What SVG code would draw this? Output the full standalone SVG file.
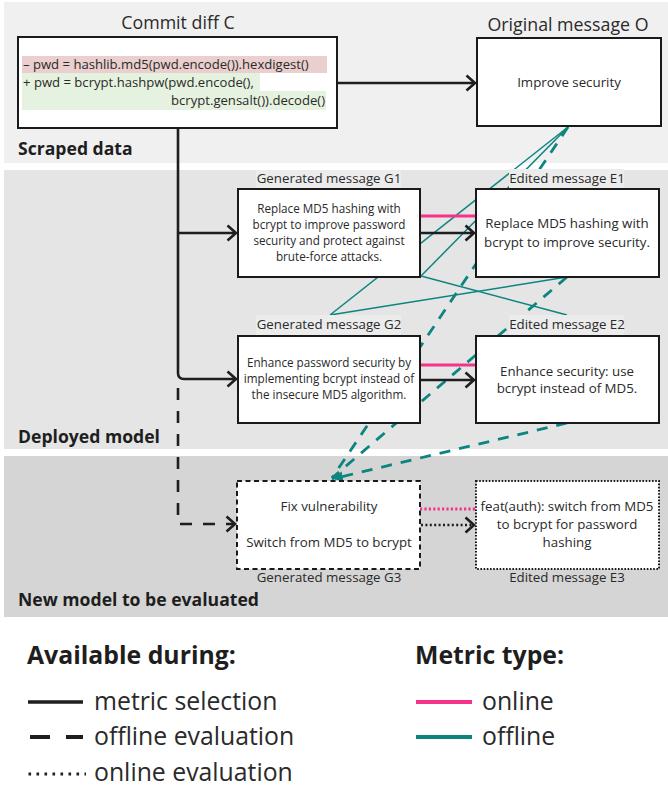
<svg xmlns="http://www.w3.org/2000/svg" width="668" height="789" viewBox="0 0 668 789">
<style>
text{font-family:"Open Sans","Noto Sans","DejaVu Sans",sans-serif;fill:#2a2a2a}
.ttl{font-size:17.8px;text-anchor:middle}
.sub{font-size:13.3px;text-anchor:middle}
.bt{font-size:11.7px;text-anchor:middle}
.et{font-size:13.3px;text-anchor:middle}
.code{font-size:13.1px}
.sec{font-size:17.6px;font-weight:bold;fill:#1e1e1e}
.leg{font-size:24.8px;fill:#2a2a2a}
.legh{font-size:24.8px;font-weight:bold;fill:#1e1e1e}
.box{fill:#fff;stroke:#1a1a1a;stroke-width:2}
.blk{fill:none;stroke:#1e1e1e;stroke-width:2.6}
.teal{fill:none;stroke:#0c8580;stroke-width:1.5}
.tealD{fill:none;stroke:#0c8580;stroke-width:2.8;stroke-dasharray:11 9}
.pink{fill:none;stroke:#f6338a;stroke-width:3}
.lbl{fill:#ececec}
</style>
<defs>
<marker id="chev" markerUnits="userSpaceOnUse" markerWidth="14" markerHeight="20" refX="10" refY="9" orient="auto">
<path d="M1.5,1.5 L10,9 L1.5,16.5" fill="none" stroke="#1e1e1e" stroke-width="2.6"/>
</marker>
<marker id="tri" markerUnits="userSpaceOnUse" markerWidth="14" markerHeight="12" refX="11" refY="5" orient="auto">
<path d="M0,0 L11,5 L0,10 Z" fill="#0c8580"/>
</marker>
</defs>

<!-- panels -->
<rect x="4" y="2" width="664" height="161" fill="#f0f0f0"/>
<rect x="4" y="170" width="664" height="279" fill="#e5e5e5"/>
<rect x="4" y="456" width="664" height="161" fill="#d5d5d5"/>
<text class="sec" x="18" y="155">Scraped data</text>
<text class="sec" x="18" y="443">Deployed model</text>
<text class="sec" x="18" y="606">New model to be evaluated</text>

<g id="connectors">
<!-- offline metric lines (solid) -->
<line class="teal" x1="568" y1="127" x2="421" y2="276"/>
<line class="teal" x1="568" y1="127" x2="330" y2="315"/>
<line class="teal" x1="567" y1="277" x2="330" y2="315"/>
<line class="teal" x1="421" y1="276" x2="567" y2="315"/>
<!-- offline metric lines (dashed, to G3) -->
<line class="tealD" x1="568" y1="127" x2="332" y2="478"/>
<line class="tealD" x1="567" y1="277" x2="332" y2="478"/>
<line class="tealD" x1="567" y1="423" x2="332" y2="479" marker-end="url(#tri)"/>
<!-- online metric lines -->
<line class="pink" x1="420" y1="216" x2="476" y2="216"/>
<line class="pink" x1="420" y1="365" x2="476" y2="365"/>
<line class="pink" x1="420" y1="509" x2="476" y2="509" stroke-dasharray="2.2 2.2"/>
<!-- black flow -->
<line class="blk" x1="337" y1="83" x2="475" y2="83" marker-end="url(#chev)"/>
<path class="blk" d="M178,128 V373 Q178,379 184,379 H236" marker-end="url(#chev)"/>
<line class="blk" x1="178" y1="233" x2="236" y2="233" marker-end="url(#chev)"/>
<line class="blk" x1="420" y1="233" x2="474" y2="233" marker-end="url(#chev)"/>
<line class="blk" x1="420" y1="380" x2="474" y2="380" marker-end="url(#chev)"/>
<path class="blk" d="M178,388 V524 H235" stroke-dasharray="12 11" marker-end="url(#chev)"/>
<line class="blk" x1="421" y1="525" x2="474" y2="525" stroke-width="3" stroke-dasharray="2 2.4" marker-end="url(#chev)"/>
</g>

<g id="C">
<text class="ttl" x="178" y="29">Commit diff C</text>
<rect class="box" x="18" y="37" width="319" height="91"/>
<rect x="22" y="56" width="305" height="17" fill="#ebcfcf"/>
<path d="M22,73 H260 V91 H326 V110 H22 Z" fill="#e5f2df"/>
<text class="code" x="23" y="69">– pwd = hashlib.md5(pwd.encode()).hexdigest()</text>
<text class="code" x="23" y="87">+ pwd = bcrypt.hashpw(pwd.encode(),</text>
<text class="code" x="325" y="105" text-anchor="end">bcrypt.gensalt()).decode()</text>
</g>

<g id="O">
<text class="ttl" x="568" y="31">Original message O</text>
<rect class="box" x="477" y="38" width="184" height="88"/>
<text class="sub" x="569" y="87">Improve security</text>
</g>

<g id="G1">
<rect class="lbl" x="256" y="170" width="145" height="19"/>
<text class="sub" x="329" y="183">Generated message G1</text>
<rect class="box" x="238" y="189" width="182" height="88"/>
<text class="bt" x="329" y="213">Replace MD5 hashing with</text>
<text class="bt" x="329" y="229">bcrypt to improve password</text>
<text class="bt" x="329" y="245">security and protect against</text>
<text class="bt" x="329" y="261">brute-force attacks.</text>
</g>

<g id="E1">
<rect class="lbl" x="509" y="169" width="115" height="20"/>
<text class="sub" x="567" y="183">Edited message E1</text>
<rect class="box" x="476" y="189" width="183" height="88"/>
<text class="et" x="567" y="228">Replace MD5 hashing with</text>
<text class="et" x="567" y="247">bcrypt to improve security.</text>
</g>

<g id="G2">
<rect class="lbl" x="256" y="315" width="145" height="21"/>
<text class="sub" x="329" y="329">Generated message G2</text>
<rect class="box" x="238" y="336" width="182" height="87"/>
<text class="bt" x="329" y="367">Enhance password security by</text>
<text class="bt" x="329" y="383">implementing bcrypt instead of</text>
<text class="bt" x="329" y="399">the insecure MD5 algorithm.</text>
</g>

<g id="E2">
<rect class="lbl" x="509" y="315" width="115" height="21"/>
<text class="sub" x="567" y="329">Edited message E2</text>
<rect class="box" x="476" y="336" width="183" height="87"/>
<text class="et" x="567" y="376">Enhance security: use</text>
<text class="et" x="567" y="393">bcrypt instead of MD5.</text>
</g>

<g id="G3">
<rect x="237" y="481" width="183" height="88" fill="#fff" stroke="#1a1a1a" stroke-width="2" stroke-dasharray="5 3.5"/>
<text class="sub" x="329" y="511">Fix vulnerability</text>
<text class="sub" x="329" y="547">Switch from MD5 to bcrypt</text>
<text class="sub" x="329" y="582">Generated message G3</text>
</g>

<g id="E3">
<rect x="476" y="481" width="183" height="88" fill="#fff" stroke="#1a1a1a" stroke-width="2" stroke-dasharray="1.6 1.6"/>
<text class="sub" x="567" y="511">feat(auth): switch from MD5</text>
<text class="sub" x="567" y="529">to bcrypt for password</text>
<text class="sub" x="567" y="547">hashing</text>
<text class="sub" x="567" y="582">Edited message E3</text>
</g>

<g id="legend">
<text class="legh" x="27" y="664">Available during:</text>
<line x1="28" y1="702" x2="83" y2="702" stroke="#1e1e1e" stroke-width="3.5"/>
<text class="leg" x="94" y="710">metric selection</text>
<line x1="30" y1="737" x2="83" y2="737" stroke="#1e1e1e" stroke-width="4" stroke-dasharray="20 16"/>
<text class="leg" x="94" y="745">offline evaluation</text>
<line x1="28.5" y1="774" x2="86" y2="774" stroke="#1e1e1e" stroke-width="3" stroke-dasharray="2.6 5.4"/>
<text class="leg" x="94" y="781">online evaluation</text>
<text class="legh" x="415" y="664">Metric type:</text>
<line x1="416" y1="702" x2="472" y2="702" stroke="#f6338a" stroke-width="4"/>
<text class="leg" x="482" y="710">online</text>
<line x1="416" y1="737" x2="472" y2="737" stroke="#0c8580" stroke-width="4"/>
<text class="leg" x="482" y="745">offline</text>
</g>
</svg>
